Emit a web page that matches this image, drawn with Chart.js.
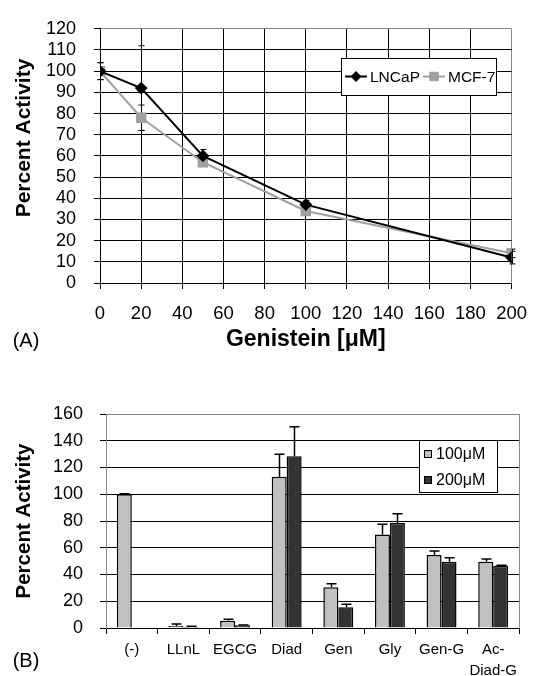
<!DOCTYPE html>
<html><head><meta charset="utf-8">
<script src="https://cdn.jsdelivr.net/npm/chart.js@4"></script>
<style>
html,body{margin:0;padding:0;background:#fff;}
#wrap{position:relative;width:541px;height:676px;overflow:hidden;}
#c1{position:absolute;left:0;top:0;}
#c2{position:absolute;left:0;top:370px;}
</style></head><body>
<div id="wrap"><canvas id="c1" width="541" height="370"></canvas><canvas id="c2" width="541" height="306"></canvas></div>
<script>
// ---- Panel A data ----
const doses = [0, 20, 50, 100, 200];
const lncap = [100, 92, 60, 37, 12];
const lncapErr = [4, 20, 3, 2, 3];
const mcf7 = [100, 78, 57, 34, 14];
const mcf7Err = [4, 6, 2, 2, 2];
const xTicksA = [0, 20, 40, 60, 80, 100, 120, 140, 160, 180, 200];
const yTicksA = [0, 10, 20, 30, 40, 50, 60, 70, 80, 90, 100, 110, 120];

// ---- Panel B data ----
const compounds = ["(-)", "LLnL", "EGCG", "Diad", "Gen", "Gly", "Gen-G", ["Ac-", "Diad-G"]];
const act100 = [100, 1.5, 5.5, 113, 30.5, 70, 54.5, 49.5];
const err100 = [0.4, 1.5, 1, 17, 2.5, 7.5, 3, 2];
const act200 = [null, 1, 2, 128.5, 15.5, 78.5, 49.5, 46.5];
const err200 = [null, 0.3, 0.3, 22, 2.2, 7, 3, 0.4];
const yTicksB = [0, 20, 40, 60, 80, 100, 120, 140, 160];

const FONT = "'Liberation Sans', Arial, sans-serif";

const errorBars = {
  id: 'errorBars',
  draw(chart, when) {
    const ctx = chart.ctx;
    chart.data.datasets.forEach((ds, i) => {
      if (!ds.errors || ds.errWhen !== when) return;
      const meta = chart.getDatasetMeta(i);
      const ys = chart.scales[meta.yAxisID];
      meta.data.forEach((el, j) => {
        const raw = ds.data[j];
        const v = (raw !== null && typeof raw === 'object') ? raw.y : raw;
        const e = ds.errors[j];
        if (v == null || e == null) return;
        const x = Math.round(el.x) + 0.5;
        const yt = ys.getPixelForValue(v + e);
        const yb = ds.errUpOnly ? ys.getPixelForValue(v) : ys.getPixelForValue(v - e);
        ctx.save();
        ctx.strokeStyle = ds.errColor || '#000';
        ctx.lineWidth = ds.errWidth || 1;
        ctx.beginPath();
        ctx.moveTo(x, yb); ctx.lineTo(x, yt);
        const c = ds.errCap / 2;
        ctx.moveTo(x - c, yt); ctx.lineTo(x + c, yt);
        if (!ds.errUpOnly) { ctx.moveTo(x - c, yb); ctx.lineTo(x + c, yb); }
        ctx.stroke();
        ctx.restore();
      });
    });
  },
  beforeDatasetsDraw(chart) { this.draw(chart, 'before'); },
  afterDatasetsDraw(chart) { this.draw(chart, 'after'); }
};

const frame = {
  id: 'frame',
  beforeDatasetsDraw(chart, args, o) {
    if (!o.right) return;
    const a = chart.chartArea, ctx = chart.ctx;
    ctx.save();
    ctx.strokeStyle = o.color; ctx.lineWidth = 1;
    ctx.beginPath();
    const x = Math.round(a.right) + 0.5;
    ctx.moveTo(x, a.top); ctx.lineTo(x, a.bottom);
    ctx.stroke();
    ctx.restore();
  }
};

const texts = {
  id: 'texts',
  afterDraw(chart, args, o) {
    const ctx = chart.ctx;
    (o.items || []).forEach(t => {
      ctx.save();
      ctx.font = t.font; ctx.fillStyle = '#000';
      ctx.textAlign = 'center'; ctx.textBaseline = 'middle';
      ctx.translate(t.x, t.y);
      if (t.rot) ctx.rotate(t.rot);
      ctx.fillText(t.text, 0, 0);
      ctx.restore();
    });
  }
};

function marker(ctx, style, x, y, r, fill) {
  ctx.save();
  ctx.fillStyle = fill; ctx.strokeStyle = fill; ctx.lineWidth = 1;
  ctx.beginPath();
  if (style === 'rectRot') {
    ctx.moveTo(x, y - r); ctx.lineTo(x + r, y); ctx.lineTo(x, y + r); ctx.lineTo(x - r, y); ctx.closePath();
  } else {
    const s = r * Math.SQRT1_2;
    ctx.rect(x - s, y - s, 2 * s, 2 * s);
  }
  ctx.fill(); ctx.stroke();
  ctx.restore();
}

const boxLegend = {
  id: 'boxLegend',
  afterDraw(chart, args, o) {
    if (!o.box) return;
    const ctx = chart.ctx; const [x0, y0, w, h] = o.box;
    ctx.save();
    ctx.fillStyle = '#fff'; ctx.fillRect(x0, y0, w, h);
    ctx.strokeStyle = '#000'; ctx.lineWidth = 1; ctx.strokeRect(x0 + 0.5, y0 + 0.5, w, h);
    ctx.font = o.font; ctx.textBaseline = 'middle'; ctx.textAlign = 'left';
    if (o.kind === 'line') {
      let x = x0 + 4; const y = y0 + h / 2;
      chart.data.datasets.forEach(ds => {
        ctx.strokeStyle = ds.borderColor; ctx.lineWidth = ds.borderWidth;
        ctx.beginPath(); ctx.moveTo(x, y); ctx.lineTo(x + 22, y); ctx.stroke();
        marker(ctx, ds.pointStyle, x + 11, y, ds.pointRadius, ds.pointBackgroundColor);
        ctx.fillStyle = '#000';
        ctx.fillText(ds.label, x + 25, y + 1);
        x += 25 + ctx.measureText(ds.label).width + 3;
      });
    } else {
      chart.data.datasets.forEach((ds, i) => {
        const y = y0 + 14 + i * 26;
        ctx.fillStyle = ds.backgroundColor; ctx.fillRect(x0 + 5, y - 4, 8, 8);
        ctx.strokeStyle = '#000'; ctx.lineWidth = 1; ctx.strokeRect(x0 + 5.5, y - 3.5, 7, 7);
        ctx.fillStyle = '#000';
        ctx.fillText(ds.label, x0 + 17, y + 1);
      });
    }
    ctx.restore();
  }
};

Chart.register(errorBars, frame, texts, boxLegend);

// ---- Panel A chart ----
new Chart(document.getElementById('c1'), {
  type: 'scatter',
  data: {
    datasets: [
      {
        label: 'LNCaP',
        data: doses.map((d, i) => ({ x: d, y: lncap[i] })),
        errors: lncapErr, errWhen: 'before', errCap: 6, errWidth: 1, errColor: '#000',
        showLine: true, borderColor: '#000', borderWidth: 2,
        pointStyle: 'rectRot', pointRadius: 5, pointBackgroundColor: '#000', pointBorderColor: '#000'
      },
      {
        label: 'MCF-7',
        data: doses.map((d, i) => ({ x: d, y: mcf7[i] })),
        errors: mcf7Err, errWhen: 'before', errCap: 6, errWidth: 1, errColor: '#000',
        showLine: true, borderColor: '#a0a0a0', borderWidth: 2,
        pointStyle: 'rect', pointRadius: 6, pointBackgroundColor: '#a0a0a0', pointBorderColor: '#a0a0a0'
      }
    ]
  },
  options: {
    responsive: false, animation: false, devicePixelRatio: 1,
    layout: { padding: { left: 0, top: 16, right: 22, bottom: 0 } },
    plugins: {
      legend: { display: false }, tooltip: { enabled: false },
      boxLegend: { kind: 'line', box: [341, 58, 155, 37], font: '15.5px ' + FONT },
      texts: { items: [
        { text: 'Percent Activity', x: 24, y: 138, rot: -Math.PI / 2, font: 'bold 21px ' + FONT },
        { text: '(A)', x: 26, y: 341, font: '20px ' + FONT }
      ] }
    },
    scales: {
      x: {
        type: 'linear', min: 0, max: 200,
        afterFit(s) { s.height = 87; },
        afterBuildTicks(s) { s.ticks = xTicksA.map(v => ({ value: v })); },
        ticks: { font: { family: FONT, size: 18.5 }, color: '#000', padding: 14, autoSkip: false, maxRotation: 0 },
        grid: { color: c => (c.tick && c.tick.value === 200) ? '#888' : '#000', tickColor: '#000', tickLength: 6, lineWidth: 1 },
        border: { color: '#000', width: 1 },
        title: { display: true, text: 'Genistein [μM]', color: '#000', font: { family: FONT, size: 23, weight: 'bold' }, padding: { top: 0, bottom: 17 } }
      },
      y: {
        type: 'linear', min: 0, max: 120,
        afterFit(s) { s.width = 100; },
        afterBuildTicks(s) { s.ticks = yTicksA.map(v => ({ value: v })); },
        ticks: { font: { family: FONT, size: 18 }, color: '#000', padding: 18, autoSkip: false },
        grid: { color: c => (c.tick && c.tick.value === 120) ? '#888' : '#000', tickColor: '#000', tickLength: 6, lineWidth: 1 },
        border: { color: '#000', width: 1 }
      }
    }
  }
});

// ---- Panel B chart ----
new Chart(document.getElementById('c2'), {
  type: 'bar',
  data: {
    labels: compounds,
    datasets: [
      {
        label: '100μM', data: act100,
        errors: err100, errWhen: 'after', errUpOnly: true, errCap: 10, errWidth: 1.5, errColor: '#000',
        backgroundColor: '#c0c0c0', borderColor: '#000', borderWidth: 1.5
      },
      {
        label: '200μM', data: act200,
        errors: err200, errWhen: 'after', errUpOnly: true, errCap: 10, errWidth: 1.5, errColor: '#000',
        backgroundColor: '#333333', borderColor: '#000', borderWidth: 1.5
      }
    ]
  },
  options: {
    responsive: false, animation: false, devicePixelRatio: 1,
    layout: { padding: { left: 0, top: 44, right: 22, bottom: 0 } },
    datasets: { bar: { categoryPercentage: 0.58, barPercentage: 1 } },
    plugins: {
      legend: { display: false }, tooltip: { enabled: false },
      frame: { right: true, color: '#888' },
      boxLegend: { kind: 'bar', box: [419, 70, 78, 52], font: '16px ' + FONT },
      texts: { items: [
        { text: 'Percent Activity', x: 24, y: 151, rot: -Math.PI / 2, font: 'bold 20.5px ' + FONT },
        { text: '(B)', x: 26, y: 291, font: '20px ' + FONT }
      ] }
    },
    scales: {
      x: {
        afterFit(s) { s.height = 48; },
        ticks: { font: { family: FONT, size: 15, lineHeight: 1.4 }, color: '#000', padding: 5, maxRotation: 0, autoSkip: false },
        grid: { offset: true, drawOnChartArea: false, drawTicks: true, tickColor: '#000', tickLength: 6 },
        border: { color: '#000', width: 1 }
      },
      y: {
        min: 0, max: 160,
        afterFit(s) { s.width = 106; },
        afterBuildTicks(s) { s.ticks = yTicksB.map(v => ({ value: v })); },
        ticks: { font: { family: FONT, size: 18 }, color: '#000', padding: 17, autoSkip: false },
        grid: { color: c => (c.tick && c.tick.value === 160) ? '#888' : '#000', tickColor: '#000', tickLength: 6, lineWidth: 1 },
        border: { color: '#888', width: 1 }
      }
    }
  }
});
</script>
</body></html>
